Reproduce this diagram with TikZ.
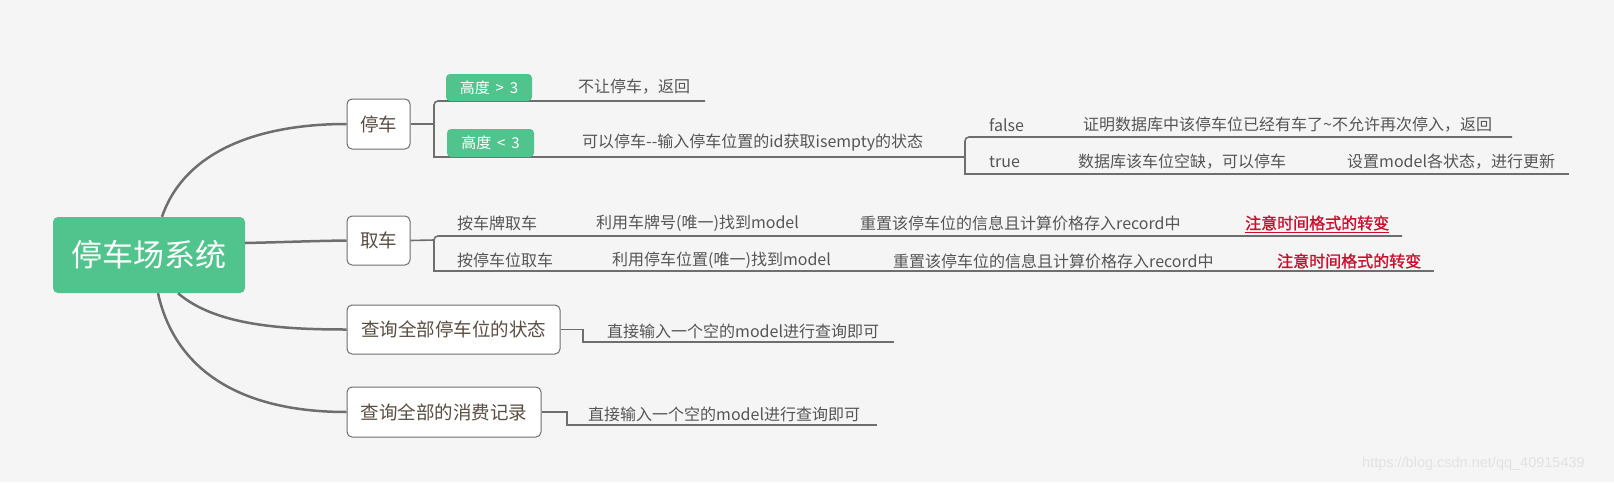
\documentclass[tikz,border=0pt]{standalone}
\usepackage{fontspec}
\newfontfamily\cjk{Noto Sans CJK SC}
\newfontfamily\cjkbold{Noto Sans CJK SC}[FakeBold=1.2]
\newfontfamily\wmfont{Liberation Sans}
\definecolor{bg}{RGB}{245,245,245}
\definecolor{mmgreen}{RGB}{81,196,142}
\definecolor{txt}{RGB}{85,85,85}
\definecolor{boxtxt}{RGB}{90,78,66}
\definecolor{ln}{RGB}{110,110,110}
\definecolor{mmred}{RGB}{200,16,46}
\definecolor{wmcol}{RGB}{226,226,226}
\begin{document}
\begin{tikzpicture}[x=1pt,y=-1pt,
  rootbox/.style={fill=mmgreen, rounded corners=5pt, minimum width=192pt, minimum height=76pt, inner sep=0pt, text=white, font=\cjk\fontsize{31}{31}\selectfont},
  topic/.style={draw=ln, line width=1pt, fill=white, rounded corners=5pt, inner sep=0pt, text=boxtxt, font=\cjk\fontsize{18.5}{18.5}\selectfont},
  tag/.style={fill=mmgreen, rounded corners=4pt, inner sep=0pt, minimum width=86pt, minimum height=27pt, text=white, font=\cjk\fontsize{15}{15}\selectfont},
  leaf/.style={anchor=west, inner sep=0pt, text=txt, font=\cjk\fontsize{16}{16}\selectfont},
  warn/.style={anchor=west, inner sep=0pt, text=mmred, font=\cjkbold\fontsize{16}{16}\selectfont},
  curve/.style={draw=ln, line width=2.5pt},
  branch/.style={draw=ln, line width=1.6pt},
]
\fill[bg] (0,0) rectangle (1614,482);
\useasboundingbox (0,0) rectangle (1614,482);

% main topics
\node[rootbox] (root) at (149,255) {停车场系统};
\node[topic, minimum width=63pt, minimum height=50pt] (tc) at (378.5,124) {停车};
\node[topic, minimum width=63pt, minimum height=49pt] (qc) at (378.5,240.5) {取车};
\node[topic, minimum width=213pt, minimum height=49pt] (zt) at (453.5,329.5) {查询全部停车位的状态};
\node[topic, minimum width=194pt, minimum height=50pt] (xf) at (444,412) {查询全部的消费记录};

% curves from root
\draw[curve] ([xshift=13pt]root.north) .. controls (185,150) and (260,124) .. (tc.west);
\draw[curve] ([yshift=12pt]root.east) .. controls (290,242) and (310,241) .. (qc.west);
\draw[curve] ([xshift=29pt]root.south) .. controls (215,325) and (280,329.5) .. (zt.west);
\draw[curve] ([xshift=9pt]root.south) .. controls (175,370) and (240,412) .. (xf.west);

% 停车 branch
\draw[branch] (tc.east) -- (434,124);
\draw[branch, rounded corners=4pt] (434,130) -- (434,101) -- (705,101);
\draw[branch] (434,130) -- (434,157) -- (965,157);
\draw[branch, rounded corners=4pt] (965,150) -- (965,137) -- (1512,137);
\draw[branch] (965,150) -- (965,174) -- (1569,174);

% 取车 branch
\draw[branch] (qc.east) -- (434,240);
\draw[branch, rounded corners=4pt] (434,250) -- (434,236) -- (1402,236);
\draw[branch] (434,250) -- (434,271) -- (1434,271);

% query branches
\draw[branch] (zt.east) -- (583,329.5) -- (583,342) -- (894,342);
\draw[branch] (xf.east) -- (567,412) -- (567,425) -- (877,425);

% tags
\node[tag] (g3) at (489,87.5) {高度 \,>\, 3};
\node[tag, minimum width=87pt, minimum height=28pt] (l3) at (490.5,143) {高度 \,<\, 3};

% leaves of 停车
\node[leaf] (noPark) at (578,87) {不让停车，返回};
\node[leaf] (canPark) at (582,143) {可以停车{-}{-}输入停车位置的id获取isempty的状态};
\node[leaf] (fls) at (989,125) {false};
\node[leaf] (flsT) at (1083,125) {证明数据库中该停车位已经有车了\string~不允许再次停入，返回};
\node[leaf] (tru) at (989,162) {true};
\node[leaf] (truT) at (1078,162) {数据库该车位空缺，可以停车};
\node[leaf] (truU) at (1347,162) {设置model各状态，进行更新};

% leaves of 取车
\node[leaf] (byPlate) at (457,223) {按车牌取车};
\node[leaf] (plateFind) at (596,223) {利用车牌号(唯一)找到model};
\node[leaf] (plateReset) at (860,223) {重置该停车位的信息且计算价格存入record中};
\node[warn] (plateWarn) at (1245,223) {注意时间格式的转变};
\draw[mmred, line width=1.2pt] ([yshift=-2pt]plateWarn.south west) -- ([yshift=-2pt]plateWarn.south east);
\node[leaf] (bySpot) at (457,260) {按停车位取车};
\node[leaf] (spotFind) at (612,260) {利用停车位置(唯一)找到model};
\node[leaf] (spotReset) at (893,261) {重置该停车位的信息且计算价格存入record中};
\node[warn] (spotWarn) at (1277,261) {注意时间格式的转变};

% leaves of queries
\node[leaf] (ztT) at (607,331) {直接输入一个空的model进行查询即可};
\node[leaf] (xfT) at (588,414) {直接输入一个空的model进行查询即可};

% watermark
\node[anchor=west, inner sep=0pt, text=wmcol, font=\wmfont\fontsize{14.5}{14.5}\selectfont] (wm) at (1362,464) {https://blog.csdn.net/qq\_40915439};
\end{tikzpicture}
\end{document}
